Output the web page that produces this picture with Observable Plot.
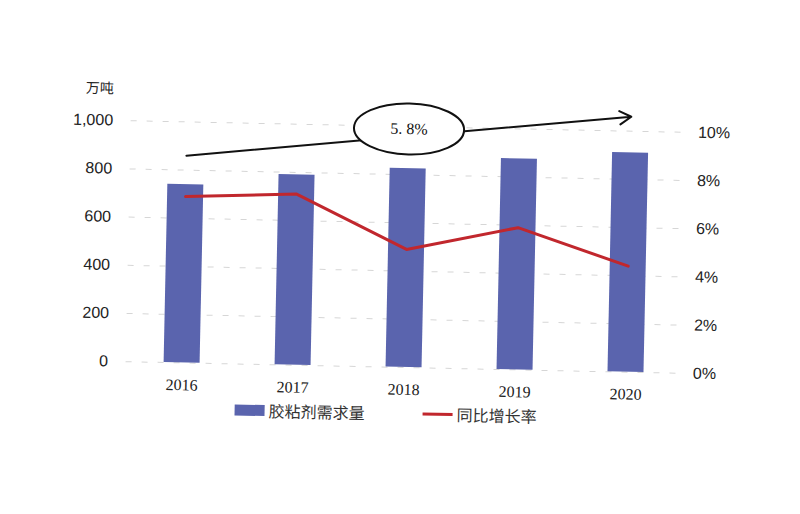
<!DOCTYPE html>
<html><head><meta charset="utf-8">
<script src="https://cdn.jsdelivr.net/npm/d3@7"></script>
<script src="https://cdn.jsdelivr.net/npm/@observablehq/plot@0.6"></script>
<style>
body{margin:0;background:#fff;}
#wrap{position:relative;width:800px;height:514px;overflow:hidden;background:#fff;}
#inner{position:absolute;left:0;top:0;width:800px;height:514px;transform:rotate(1.2deg);transform-origin:405px 250px;}
#chart{position:absolute;left:0;top:0;}
#legend{position:absolute;left:0;top:402px;width:800px;height:22px;font-family:"Noto Sans CJK SC",sans-serif;font-size:16px;color:#333;}
.item{position:absolute;top:0;display:flex;align-items:center;height:22px;}
.sw{display:inline-block;width:30px;margin-right:4px;}
</style></head>
<body><div id="wrap"><div id="inner"><div id="chart"></div><div id="legend"></div></div></div>
<script>
const years = ["2016", "2017", "2018", "2019", "2020"];
const demand = [740, 790, 825, 875, 910];          // 万吨
const growth = [6.9, 7.1, 4.9, 5.9, 4.4];          // %
const leftTicks = [0, 200, 400, 600, 800, 1000];
const rightTicks = [0, 2, 4, 6, 8, 10];            // %
const unitLabel = "万吨";
const seriesNames = ["胶粘剂需求量", "同比增长率"];
const cagrLabel = "5. 8%";
const trendStart = {year: "2016", value: 860};
const trendEnd = {year: "2020", value: 1060};
const cagrAt = {year: "2018", value: 990};

const barColor = "#5a64ae";
const lineColor = "#c1272d";

const rows = years.map((y, i) => ({year: y, demand: demand[i], growth: growth[i]}));

const ellipse = {
  draw(ctx, size) {
    const r = Math.sqrt(size / Math.PI);
    const rx = r * 2.16, ry = r, k = 0.5523;
    ctx.moveTo(rx, 0);
    ctx.bezierCurveTo(rx, ry * k, rx * k, ry, 0, ry);
    ctx.bezierCurveTo(-rx * k, ry, -rx, ry * k, -rx, 0);
    ctx.bezierCurveTo(-rx, -ry * k, -rx * k, -ry, 0, -ry);
    ctx.bezierCurveTo(rx * k, -ry, rx, -ry * k, rx, 0);
    ctx.closePath();
  }
};

const chart = Plot.plot({
  width: 800,
  height: 400,
  marginLeft: 128,
  marginRight: 117,
  marginTop: 126,
  marginBottom: 33,
  style: {background: "transparent", overflow: "visible"},
  x: {domain: years, paddingInner: 0.68, paddingOuter: 0.34, align: 0.5},
  y: {domain: [0, 1000]},
  marks: [
    Plot.gridY({ticks: leftTicks, stroke: "#bbb", strokeOpacity: 0.6, strokeDasharray: "6,10"}),
    Plot.barY(rows, {x: "year", y: "demand", fill: barColor}),
    Plot.line(rows, {x: "year", y: d => d.growth * 100, stroke: lineColor, strokeWidth: 3}),
    Plot.arrow([{a: trendStart, b: trendEnd}], {
      x1: d => d.a.year, y1: d => d.a.value, x2: d => d.b.year, y2: d => d.b.value,
      stroke: "#111", strokeWidth: 2, headLength: 10, bend: 0
    }),
    Plot.dot([cagrAt], {x: "year", y: "value", r: 25.5, symbol: ellipse, fill: "#fff", stroke: "#111", strokeWidth: 2}),
    Plot.text([cagrAt], {x: "year", y: "value", text: () => cagrLabel, fontFamily: "Liberation Serif, serif", fontSize: 16, fill: "#111"}),
    Plot.axisY({ticks: leftTicks, anchor: "left", tickSize: 0, tickPadding: 18, tickFormat: d3.format(","), label: null, fontFamily: "Liberation Sans, Arial, sans-serif", fontSize: 16, fill: "#222"}),
    Plot.axisY({ticks: rightTicks.map(t => t * 100), anchor: "right", tickSize: 0, tickPadding: 12, tickFormat: d => d / 100 + "%", label: null, fontFamily: "Liberation Sans, Arial, sans-serif", fontSize: 16, fill: "#222", textAnchor: "start"}),
    Plot.axisX({tickSize: 0, tickPadding: 16, label: null, fontFamily: "Liberation Serif, serif", fontSize: 16, fill: "#222"}),
    Plot.text([unitLabel], {frameAnchor: "top-left", dx: -18, dy: -37, textAnchor: "end", fontFamily: "Noto Sans CJK SC, sans-serif", fontSize: 14, fill: "#222"})
  ]
});
document.getElementById("chart").appendChild(chart);

const legend = document.getElementById("legend");
const items = [
  {name: seriesNames[0], color: barColor, h: 11, left: 238},
  {name: seriesNames[1], color: lineColor, h: 3, left: 426}
];
for (const it of items) {
  const div = document.createElement("div");
  div.className = "item";
  div.style.left = it.left + "px";
  const sw = document.createElement("span");
  sw.className = "sw";
  sw.style.height = it.h + "px";
  sw.style.background = it.color;
  div.appendChild(sw);
  div.appendChild(document.createTextNode(it.name));
  legend.appendChild(div);
}
</script>
</body></html>
